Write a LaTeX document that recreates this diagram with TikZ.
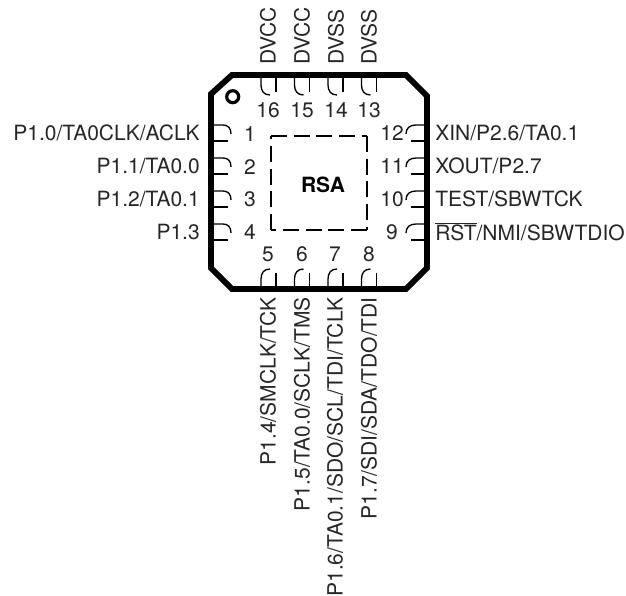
\documentclass[tikz,border=0pt]{standalone}
\usepackage{fontspec}
\setmainfont{TeX Gyre Heros}
\begin{document}
\begin{tikzpicture}[line cap=butt,line join=miter,x=0.75pt,y=-0.75pt,
    pin/.style={line width=1pt,black},
    pad/.style={line width=1pt,dash pattern=on 12pt off 5pt},
    lbl/.style={inner sep=0pt,font=\fontsize{15.75pt}{18pt}\selectfont,text=black!85},
    num/.style={inner sep=0pt,font=\fontsize{15.75pt}{18pt}\selectfont,text=black!85}]
    \useasboundingbox (0,0) rectangle (626,596);

    % package outline
    \draw [line width=4.4pt] (232,75) -- (406,75) -- (427,96) -- (427,268) -- (406,289) -- (232,289) -- (211,268) -- (211,94) -- cycle;
    \draw [line width=2.4pt] (232.7,96.7) circle (6);

    % thermal pad
    \draw [pad] (271,136) -- (367,136);
    \draw [pad] (367,136) -- (367,230);
    \draw [pad] (367,230) -- (271,230);
    \draw [pad] (271,230) -- (271,136);
    \node [inner sep=0pt,font=\fontsize{15.75pt}{18pt}\selectfont\bfseries] (rsa) at (323,185) {RSA};

    % pin marks
    \foreach \y in {125,158,191,224} {
        \draw [pin] (211,\y) -- (223,\y) .. controls (228,\y) and (231,\y+3) .. (231,\y+9);
        \draw [pin] (211,\y+16) -- (228,\y+16);
        \draw [pin] (427,\y) -- (416,\y) .. controls (410,\y) and (406,\y+3) .. (406,\y+9);
        \draw [pin] (427,\y+16) -- (411,\y+16);
    }
    \foreach \x in {261,294.5,328,361.5} {
        \draw [pin] (\x,75) -- (\x,85) .. controls (\x,91) and (\x+3,95) .. (\x+9,95);
        \draw [pin] (\x+15,75) -- (\x+15,92);
        \draw [pin] (\x,289) -- (\x,279) .. controls (\x,273) and (\x+3,269) .. (\x+9,269);
        \draw [pin] (\x+15,289) -- (\x+15,273);
    }

    % pin numbers
    \node [num] (n1) at (250,134) {1};
    \node [num] (n2) at (250,167) {2};
    \node [num] (n3) at (250,199) {3};
    \node [num] (n4) at (250,232) {4};
    \node [num] (n5) at (268,254) {5};
    \node [num] (n6) at (302,254) {6};
    \node [num] (n7) at (335,254) {7};
    \node [num] (n8) at (369,254) {8};
    \node [num] (n9) at (392,232) {9};
    \node [num] (n10) at (392,199) {10};
    \node [num] (n11) at (392,166) {11};
    \node [num] (n12) at (392,133) {12};
    \node [num] (n13) at (369,110) {13};
    \node [num] (n14) at (336,110) {14};
    \node [num] (n15) at (302,110) {15};
    \node [num] (n16) at (268,110) {16};

    % signal names
    \node [lbl,anchor=east] (p1) at (200,133) {P1.0/TA0CLK/ACLK};
    \node [lbl,anchor=east] (p2) at (200,166) {P1.1/TA0.0};
    \node [lbl,anchor=east] (p3) at (200,199) {P1.2/TA0.1};
    \node [lbl,anchor=east] (p4) at (200,232) {P1.3};
    \node [lbl,anchor=east,rotate=90] (p5) at (268,297) {P1.4/SMCLK/TCK};
    \node [lbl,anchor=east,rotate=90] (p6) at (302,297) {P1.5/TA0.0/SCLK/TMS};
    \node [lbl,anchor=east,rotate=90] (p7) at (335,297) {P1.6/TA0.1/SDO/SCL/TDI/TCLK};
    \node [lbl,anchor=east,rotate=90] (p8) at (369,297) {P1.7/SDI/SDA/TDO/TDI};
    \node [lbl,anchor=west] (p9) at (435,232) {$\overline{\mbox{RST}}$/NMI/SBWTDIO};
    \node [lbl,anchor=west] (p10) at (435,199) {TEST/SBWTCK};
    \node [lbl,anchor=west] (p11) at (435,166) {XOUT/P2.7};
    \node [lbl,anchor=west] (p12) at (435,133) {XIN/P2.6/TA0.1};
    \node [lbl,anchor=west,rotate=90] (p13) at (369,65) {DVSS};
    \node [lbl,anchor=west,rotate=90] (p14) at (336,65) {DVSS};
    \node [lbl,anchor=west,rotate=90] (p15) at (302,65) {DVCC};
    \node [lbl,anchor=west,rotate=90] (p16) at (268,65) {DVCC};
\end{tikzpicture}
\end{document}
